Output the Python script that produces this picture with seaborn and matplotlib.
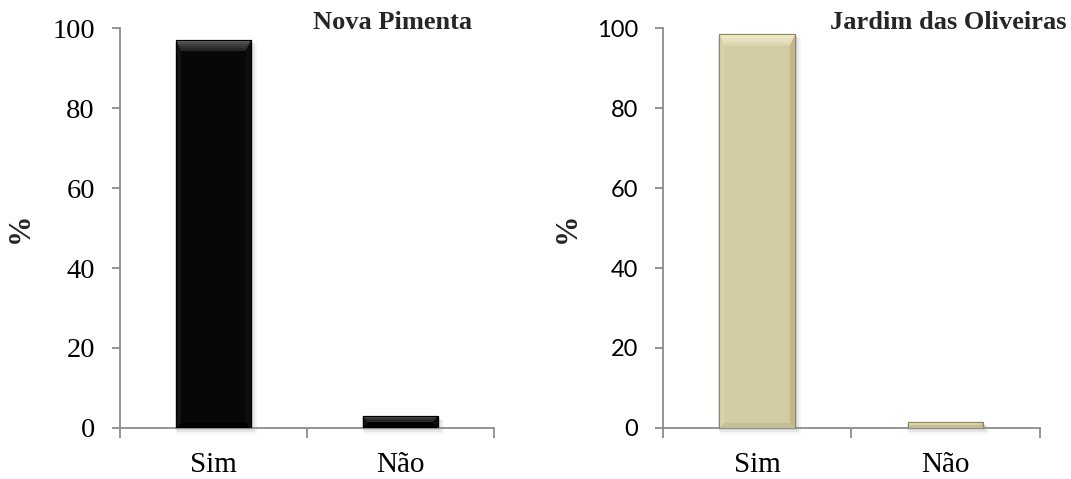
import matplotlib
matplotlib.use("Agg")
import matplotlib.pyplot as plt
from matplotlib.patches import Polygon, Rectangle
import matplotlib.colors as mcolors
import numpy as np
import seaborn as sns
import pandas as pd

# Survey answers, share of respondents (%)
categories = ["Sim", "Não"]
nova_pimenta = [97.0, 3.0]
jardim_oliveiras = [98.4, 1.6]
panel_titles = ["Nova Pimenta", "Jardim das Oliveiras"]
y_ticks = [0, 20, 40, 60, 80, 100]

sns.set_theme(style="white")
plt.rcParams["font.family"] = ["Liberation Serif", "DejaVu Serif"]

SERIF = ["Liberation Serif", "DejaVu Serif"]
SANS = ["Lato", "DejaVu Sans"]
AXIS_GREY = "#8c8c8c"

fig = plt.figure(figsize=(10.71, 4.79), dpi=100)
ax_left = fig.add_axes([0.112, 0.1065, 0.349, 0.835])
ax_right = fig.add_axes([0.619, 0.1065, 0.352, 0.835])

# bevel shades: face, top gradient (outer -> inner), sides, bottom
palettes = [
    dict(face="#070707", top_out="#6a6a6a", top_in="#1e1e1e", left="#141414",
         right="#0f0f0f", bottom="#000000", edge="#000000"),
    dict(face="#d3cba1", top_out="#f6f1d4", top_in="#ddd6ae", left="#d9d2a8",
         right="#c0b88f", bottom="#c6be95", edge="#8f875f"),
]


def bevel_bar(ax, patch, pal, depth_px=11, side_px=5, bands=5):
    """Decorate a bar patch with a bevelled look and a soft drop shadow."""
    x0, y0 = patch.get_x(), patch.get_y()
    w, h = patch.get_width(), patch.get_height()
    inv = ax.transData.inverted()
    (px0, py0) = ax.transData.transform((x0, y0))
    (px1, py1) = ax.transData.transform((x0 + w, y0 + h))
    d = min(depth_px, (py1 - py0) / 2.0)
    ds = min(side_px, d)

    def P(x, y):
        return inv.transform((x, y))

    # soft shadow below and to the right
    for i, a in enumerate([0.09, 0.06, 0.035]):
        off = 2 + i * 2
        c0 = P(px0 - 1 + i, py0 - off)
        c1 = P(px1 + off, py1 - 2 - i)
        ax.add_patch(Rectangle(c0, c1[0] - c0[0], c1[1] - c0[1],
                               facecolor="black", alpha=a, lw=0, zorder=1,
                               clip_on=False))
    patch.set_zorder(2)
    patch.set_facecolor(pal["face"])
    patch.set_edgecolor(pal["edge"])
    patch.set_linewidth(0.8)

    outer = [(px0, py0), (px1, py0), (px1, py1), (px0, py1)]
    inner = [(px0 + ds, py0 + ds), (px1 - ds, py0 + ds),
             (px1 - ds, py1 - d), (px0 + ds, py1 - d)]
    faces = {
        "bottom": [outer[0], outer[1], inner[1], inner[0]],
        "right": [outer[1], outer[2], inner[2], inner[1]],
        "left": [outer[3], outer[0], inner[0], inner[3]],
    }
    for k, pts in faces.items():
        ax.add_patch(Polygon([P(*p) for p in pts], closed=True,
                             facecolor=pal[k], lw=0, zorder=3))
    # top bevel drawn as stacked bands from light (outer) to dark (inner)
    c_out = np.array(mcolors.to_rgb(pal["top_out"]))
    c_in = np.array(mcolors.to_rgb(pal["top_in"]))
    for b in range(bands):
        t0, t1 = b / bands, (b + 1) / bands
        yl0, yl1 = py1 - d * t0, py1 - d * t1
        xl0, xl1 = px0 + ds * t0, px0 + ds * t1
        xr0, xr1 = px1 - ds * t0, px1 - ds * t1
        col = c_out + (c_in - c_out) * (b + 0.5) / bands
        ax.add_patch(Polygon([P(xl0, yl0), P(xr0, yl0), P(xr1, yl1),
                              P(xl1, yl1)], closed=True, facecolor=col,
                             lw=0, zorder=3))
    # outline on top of the bevel
    ax.add_patch(Rectangle((x0, y0), w, h, facecolor="none",
                           edgecolor=pal["edge"], lw=0.8, zorder=4))


datasets = [nova_pimenta, jardim_oliveiras]
tick_fonts = [dict(family=SERIF, size=20.5), dict(family=SANS, size=17)]
label_x = [-0.228, -0.215]

for idx, (ax, values) in enumerate(zip([ax_left, ax_right], datasets)):
    df = pd.DataFrame({"resposta": categories, "pct": values})
    sns.barplot(data=df, x="resposta", y="pct", ax=ax, width=0.4,
                color=palettes[idx]["face"], saturation=1)
    ax.set_xlim(-0.5, 1.5)
    ax.set_ylim(0, 100)
    ax.set_yticks(y_ticks)
    ax.set_xlabel("")
    ax.set_ylabel("%", fontfamily=SERIF, fontweight="bold", fontsize=22)
    ax.yaxis.set_label_coords(label_x[idx], 0.5)

    for side in ["top", "right"]:
        ax.spines[side].set_visible(False)
    for side in ["left", "bottom"]:
        ax.spines[side].set_color(AXIS_GREY)
        ax.spines[side].set_linewidth(1.3)

    ax.tick_params(axis="y", direction="out", length=6, width=1.3,
                   color=AXIS_GREY, pad=12, left=True)
    for lab in ax.get_yticklabels():
        lab.set_fontfamily(tick_fonts[idx]["family"])
        lab.set_fontsize(tick_fonts[idx]["size"])
        lab.set_color("black")

    # category boundaries carry the tick marks, names sit between them
    ax.set_xticks([-0.5, 0.5, 1.5], minor=True)
    ax.tick_params(axis="x", which="minor", direction="out", length=7,
                   width=1.3, color=AXIS_GREY, bottom=True)
    ax.tick_params(axis="x", which="major", length=0, pad=17)
    for lab in ax.get_xticklabels():
        lab.set_fontfamily(SERIF)
        lab.set_fontsize(21)
        lab.set_color("black")

    for patch in list(ax.patches):
        bevel_bar(ax, patch, palettes[idx])

# panel titles, right aligned near the top edge
fig.text(472 / 1071, 1 - 29 / 479, panel_titles[0], ha="right",
         va="baseline", fontfamily=SERIF, fontweight="bold", fontsize=19)
fig.text(1066 / 1071, 1 - 29 / 479, panel_titles[1], ha="right",
         va="baseline", fontfamily=SERIF, fontweight="bold", fontsize=19)

fig.savefig("out.png", dpi=100, facecolor="white")
